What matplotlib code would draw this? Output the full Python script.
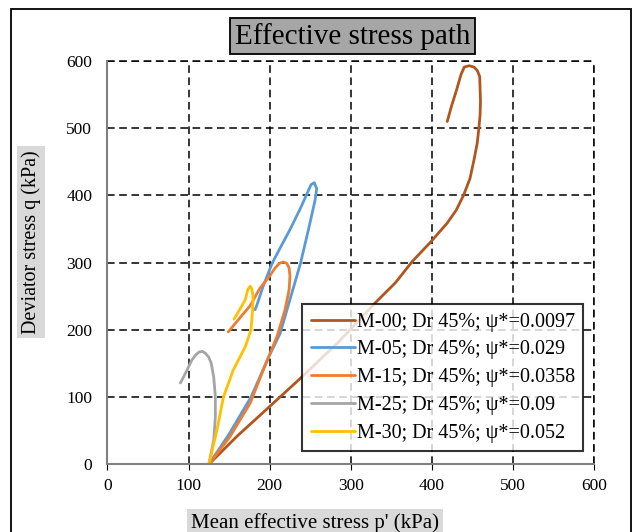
import matplotlib.pyplot as plt
from matplotlib.patches import Rectangle

plt.rcParams['font.family'] = ['Liberation Serif', 'DejaVu Serif']

# M-00 (brown)
m00_p = [125, 160, 200, 238, 285, 330, 355, 376, 398, 419, 430, 439, 447, 452, 456, 458, 459.5, 460, 459, 456, 452, 446, 440, 436, 430, 424, 419]
m00_q = [0, 42, 86, 128, 182, 240, 270, 302, 330, 359, 378, 400, 425, 453, 478, 500, 520, 540, 577, 586, 591, 593, 591, 580, 555, 532, 510]
# M-05 (blue)
m05_p = [125, 150, 177, 199, 213, 225, 238, 248, 256, 258, 255, 251, 238, 225, 213, 203, 192, 184, 182]
m05_q = [0, 45, 100, 160, 195, 245, 299, 350, 393, 410, 419, 416, 381, 349, 322, 299, 265, 236, 230]
# M-15 (orange)
m15_p = [125, 151, 176, 192, 209, 219, 224, 225, 224, 221, 217, 212, 206, 200, 188, 176, 162, 149]
m15_q = [0, 41, 91, 140, 190, 230, 260, 280, 292, 299, 301, 299, 291, 280, 262, 236, 216, 197]
# M-25 (gray)
m25_p = [125, 131, 133, 133, 131, 128, 125, 121, 117, 113, 109, 104, 98, 90]
m25_q = [0, 36, 70, 101, 130, 150, 159, 165, 168, 167, 163, 155, 140, 121]
# M-30 (yellow)
m30_p = [125, 135, 143, 155, 170, 177, 179, 179.5, 178, 176, 173, 170, 163, 156]
m30_q = [0, 51, 100, 140, 175, 200, 230, 250, 261, 265, 260, 245, 230, 216]

series = [
    (m00_p, m00_q, "M-00; Dr 45%; ψ*=0.0097", "#B0561E"),
    (m05_p, m05_q, "M-05; Dr 45%; ψ*=0.029", "#5B9BD5"),
    (m15_p, m15_q, "M-15; Dr 45%; ψ*=0.0358", "#ED7D31"),
    (m25_p, m25_q, "M-25; Dr 45%; ψ*=0.09", "#A5A5A5"),
    (m30_p, m30_q, "M-30; Dr 45%; ψ*=0.052", "#FFC000"),
]

fig = plt.figure(figsize=(6.36, 5.32), dpi=100)
ax = fig.add_axes([0.169, 0.1273, 0.765, 0.758])

for p, q, lab, col in series:
    ax.plot(p, q, color=col, lw=2.0, label=lab, solid_capstyle='round', solid_joinstyle='round')

ax.set_xlim(0, 600)
ax.set_ylim(0, 600)
ax.set_xticks(range(0, 601, 100))
ax.set_yticks(range(0, 601, 100))
ax.grid(True, color='black', ls=(0, (5, 3)), lw=1.1)
for s in ['top', 'right']:
    ax.spines[s].set_visible(False)
ax.axhline(600, color='black', ls=(0, (5, 3)), lw=1.1, clip_on=False)
ax.axvline(600, color='black', ls=(0, (5, 3)), lw=1.1, clip_on=False)
for s in ['left', 'bottom']:
    ax.spines[s].set_color('#808080')
    ax.spines[s].set_linewidth(1.5)
ax.tick_params(axis='x', length=4, color='black', labelsize=12.5, pad=6)
ax.tick_params(axis='y', length=0, labelsize=12.5, pad=11)

leg = ax.legend(loc='upper left', bbox_to_anchor=(0.40, 0.397), fontsize=14.5,
                frameon=True, fancybox=False, edgecolor='black',
                handlelength=2.2, handletextpad=0.1, labelspacing=0.43,
                borderpad=0.42, borderaxespad=0)
leg.get_frame().set_linewidth(1.5)

fig.text(0.554, 0.932, "Effective stress path", ha='center', va='center', fontsize=21,
         bbox=dict(boxstyle='square,pad=0.16', facecolor='#A6A6A6', edgecolor='black', lw=1.3))
fig.text(0.049, 0.545, "Deviator stress q (kPa)", ha='center', va='center', rotation=90,
         fontsize=14.5, bbox=dict(boxstyle='square,pad=0.2', facecolor='#D9D9D9', edgecolor='none'))
fig.text(0.495, 0.017, "Mean effective stress p' (kPa)", ha='center', va='center',
         fontsize=15, bbox=dict(boxstyle='square,pad=0.2', facecolor='#D9D9D9', edgecolor='none'))

fig.patches.append(Rectangle((11 / 636, -0.05), 620 / 636, 1.05 - 9 / 532,
                             transform=fig.transFigure, fill=False, edgecolor='black', lw=1.3))

fig.savefig("out.png", dpi=100)
